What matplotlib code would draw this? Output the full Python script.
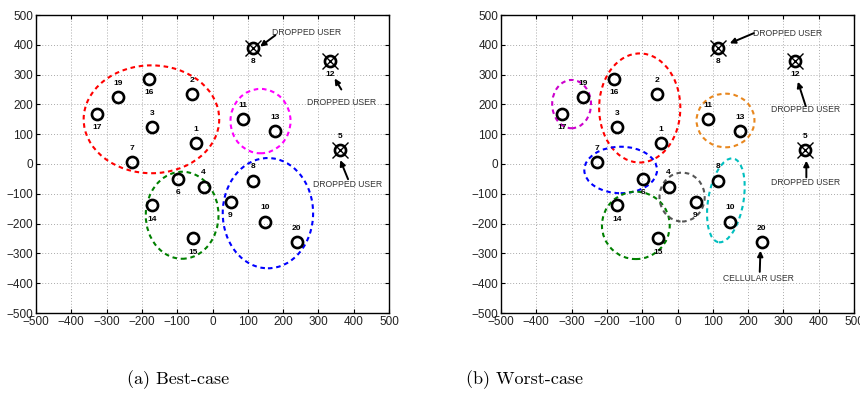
import matplotlib
matplotlib.use("Agg")
import matplotlib.pyplot as plt
from matplotlib.patches import Ellipse

# ---- data ----
user_labels = ["1", "2", "3", "4", "5", "6", "7", "8", "8", "9", "10",
               "11", "12", "13", "14", "15", "16", "17", "19", "20"]
user_x = [-47, -59, -171, -25, 362, -97, -229, 115, 115, 51, 150,
          86, 332, 176, -172, -55, -180, -327, -268, 239]
user_y = [70, 235, 124, -76, 47, -50, 6, 390, -56, -127, -193,
          151, 346, 111, -138, -249, 285, 169, 224, -262]
label_side = [1, 1, 1, 1, 1, -1, 1, -1, 1, -1, 1,
              1, -1, 1, -1, -1, -1, -1, 1, 1]
dropped = [4, 7, 12]  # indices of dropped users (5, 8, 12)

# clusters: centre x, centre y, width, height, colour
best_cx = [-173, 136, -86, 157]
best_cy = [150, 144, -172, -165]
best_w = [384, 170, 206, 256]
best_h = [362, 216, 292, 370]
best_col = ["#ff0000", "#ff00ff", "#008000", "#0000ff"]

worst_cx = [-300, -107, 136, -161, -118, 13, 137]
worst_cy = [201, 188, 146, -20, -206, -111, -122]
worst_w = [110, 230, 164, 206, 192, 128, 100]
worst_h = [162, 366, 180, 156, 226, 164, 284]
worst_col = ["#cc00cc", "#ff0000", "#e8871e", "#0000ff", "#008000", "#555555", "#00bfbf"]
worst_ang = [0, 0, 0, 0, 0, 0, -8]

# annotations: text, text x, text y, tail, tip
best_notes = [("DROPPED USER", 266, 441, (178, 432), (135, 394)),
              ("DROPPED USER", 366, 206, (365, 250), (346, 287)),
              ("DROPPED USER", 383, -68, (384, -51), (362, 13))]
worst_notes = [("DROPPED USER", 313, 439, (216, 439), (148, 405)),
               ("DROPPED USER", 362, 183, (363, 195), (341, 276)),
               ("DROPPED USER", 364, -63, (365, -45), (365, 11)),
               ("CELLULAR USER", 230, -384, (233, -362), (235, -291))]

ticks = list(range(-500, 501, 100))

fig = plt.figure(figsize=(8.6, 4.04), dpi=100)
ax1 = fig.add_axes([36 / 860, 91 / 404, 353 / 860, 298 / 404])
ax2 = fig.add_axes([501 / 860, 91 / 404, 353 / 860, 298 / 404])

lab_font = dict(family=["Liberation Sans", "DejaVu Sans"], fontsize=6, fontweight="bold")
note_font = dict(family=["Liberation Sans", "DejaVu Sans"], fontsize=6.2, color="#333333")


def draw(ax, cx, cy, w, h, cols, angs, notes):
    ax.set_xlim(-500, 500)
    ax.set_ylim(-500, 500)
    ax.set_xticks(ticks)
    ax.set_yticks(ticks)
    ax.grid(True, linestyle=(0, (1, 2)), color="#aaaaaa", linewidth=0.7)
    ax.tick_params(direction="in", length=3, width=0.8, top=True, right=True,
                   labelsize=8.5, pad=2, colors="black")
    for lab in ax.get_xticklabels() + ax.get_yticklabels():
        lab.set_family(["Liberation Sans", "DejaVu Sans"])
        lab.set_color("#222222")
    for s in ax.spines.values():
        s.set_linewidth(1.0)
    ax.set_axisbelow(True)
    for i in range(len(cx)):
        e = Ellipse((cx[i], cy[i]), w[i], h[i], angle=angs[i], fill=False,
                    edgecolor=cols[i], linestyle=(0, (2.2, 1.8)), linewidth=1.5)
        ax.add_patch(e)
    ax.plot(user_x, user_y, "o", markersize=8, markerfacecolor="none",
            markeredgecolor="black", markeredgewidth=1.9, zorder=5)
    ax.plot([user_x[i] for i in dropped], [user_y[i] for i in dropped], "x",
            markersize=12, markeredgecolor="black", markeredgewidth=1.0, zorder=5)
    for i, lab in enumerate(user_labels):
        ax.annotate(lab, (user_x[i], user_y[i]), xytext=(0, 10 * label_side[i]),
                    textcoords="offset points", ha="center", va="center", **lab_font)
    for txt, tx, ty, tail, tip in notes:
        ax.text(tx, ty, txt, ha="center", va="center", **note_font)
        ax.annotate("", xy=tip, xytext=tail,
                    arrowprops=dict(arrowstyle="-|>", color="black", lw=1.4,
                                    mutation_scale=8, shrinkA=0, shrinkB=0))


draw(ax1, best_cx, best_cy, best_w, best_h, best_col, [0] * len(best_cx), best_notes)
draw(ax2, worst_cx, worst_cy, worst_w, worst_h, worst_col, worst_ang, worst_notes)

fig.text(178 / 860, 1 - 380 / 404, "(a) Best-case", ha="center", va="center",
         family=["cmr10", "DejaVu Serif"], fontsize=13)
fig.text(525 / 860, 1 - 380 / 404, "(b) Worst-case", ha="center", va="center",
         family=["cmr10", "DejaVu Serif"], fontsize=13)

fig.savefig("out.png", dpi=100)
